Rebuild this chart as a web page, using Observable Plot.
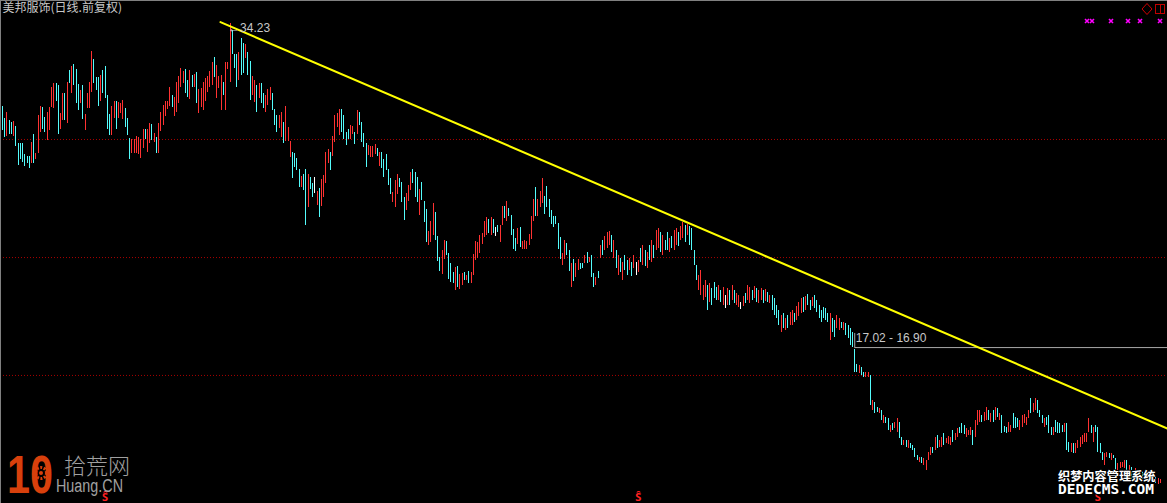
<!DOCTYPE html>
<html><head><meta charset="utf-8">
<script src="https://cdn.jsdelivr.net/npm/d3@7"></script>
<script src="https://cdn.jsdelivr.net/npm/@observablehq/plot@0.6"></script>
<style>html,body{margin:0;padding:0;background:#000;} #chart{width:1167px;height:503px;overflow:hidden;position:relative;}</style>
</head><body><div id="chart"></div><script>
// ---- data: daily bars (high / low / direction r=up c=down w=flat) ----
const highs = [
// A
29.82,29.19,29.50,29.08,28.97,29.03,28.76,27.86,27.86,27.86,27.28,27.17,27.17,27.91,28.34,27.33,29.34,29.82,29.77,29.24,29.50,29.77,30.83,31.04,31.04,30.94,29.45,30.51,30.51,31.09,31.73,31.94,32.05,31.78,30.99,30.67,30.94,29.40,30.51,31.09,32.75,32.32,31.36,31.36,31.47,
// B
31.73,31.94,30.41,29.40,29.82,30.09,30.09,30.04,29.98,30.14,29.72,29.18,28.12,28.07,28.07,28.23,28.18,28.07,28.60,28.60,28.60,28.92,28.87,28.39,28.18,28.92,29.50,29.88,30.09,30.09,30.83,30.41,30.30,31.09,31.41,31.84,31.68,31.78,31.20,31.73,31.47,31.52,31.63,30.73,30.78,
// C
31.09,31.31,31.41,31.68,32.16,32.42,32.00,31.41,31.47,31.09,32.16,32.16,34.23,33.86,32.58,32.58,32.69,33.43,33.17,33.11,32.69,32.21,31.41,31.20,30.94,31.04,31.04,30.51,30.41,30.73,30.83,30.51,29.66,29.34,29.34,29.50,28.97,29.82,28.71,27.97,27.38,27.33,27.07,26.47,
// D
26.10,26.21,26.47,26.21,26.05,25.73,26.05,25.31,25.47,25.94,26.16,27.38,27.54,27.38,28.23,29.34,29.45,29.66,29.66,29.34,28.44,28.60,28.81,28.76,28.44,29.61,29.50,28.97,28.39,27.86,27.75,27.70,27.70,27.81,27.60,27.38,27.38,27.01,27.28,26.47,26.00,25.25,25.89,26.21,
// E
26.00,25.79,24.99,25.20,25.63,26.32,26.47,26.32,26.05,25.41,25.79,24.78,24.35,23.18,23.72,24.67,24.19,22.92,21.80,22.18,
22.71,22.65,22.02,21.48,21.01,21.27,21.32,20.90,20.96,21.01,20.85,21.06,21.01,21.96,22.65,22.60,22.97,23.08,23.72,23.93,
23.82,23.93,23.82,23.40,23.50,23.50,24.51,24.51,24.78,24.40,24.03,23.29,22.81,23.34,23.40,22.65,22.71,22.65,23.03,23.98,
24.88,25.52,24.88,25.31,26.00,25.04,25.57,24.88,24.30,23.98,23.98,23.61,22.87,22.02,22.71,22.55,22.18,21.48,21.70,21.48,
21.70,21.48,21.48,21.91,22.07,21.80,21.91,20.96,20.74,21.06,
// F
22.44,22.71,22.92,23.13,23.18,22.97,22.71,22.18,21.91,21.75,21.54,21.91,21.64,21.75,21.54,21.91,21.54,21.64,22.28,22.44,
22.18,22.07,22.44,22.71,22.44,23.24,23.34,23.13,22.97,22.71,23.13,22.81,22.92,23.24,23.34,23.13,23.45,23.66,23.50,23.56,
23.45,23.34,22.18,21.38,20.85,21.11,20.31,20.58,20.31,20.42,20.15,20.47,20.21,20.31,20.05,20.21,19.78,20.15,20.05,20.31,
20.05,19.89,19.78,19.41,19.73,19.89,20.31,20.21,20.05,20.26,20.15,20.05,20.15,20.05,20.10,19.94,19.78,19.78,19.63,19.25,
18.99,18.73,18.84,18.56,18.73,18.89,18.99,18.84,19.20,19.41,19.63,19.68,19.73,19.84,19.52,19.68,19.78,19.52,19.25,18.99,
// G
19.15,19.09,18.84,18.84,18.56,18.46,18.73,18.56,18.36,18.36,18.30,18.20,18.04,17.82,
16.90,16.12,16.07,15.96,15.69,15.69,15.69,15.54,14.21,14.10,13.84,13.79,13.68,13.41,13.31,13.25,12.88,12.99,13.04,13.25,
13.04,12.25,12.09,12.09,12.09,11.93,11.82,11.66,11.29,11.18,11.18,11.13,11.02,11.45,11.72,11.72,12.25,12.35,12.09,12.25,
12.46,12.19,12.30,12.25,12.62,12.46,12.72,12.78,12.99,12.88,12.72,12.62,12.78,12.62,13.15,13.68,13.68,13.41,13.57,
13.84,13.68,13.52,13.68,13.84,13.79,13.52,13.41,12.83,12.78,13.04,12.88,13.52,13.31,13.25,13.15,13.41,13.47,
13.31,13.68,14.31,14.05,14.31,14.21,13.68,13.41,13.25,13.31,13.41,12.78,12.78,13.15,13.04,12.99,
12.88,12.99,12.99,11.98,11.93,11.93,11.93,12.09,12.25,12.35,
12.46,12.46,13.25,12.88,12.78,12.88,12.78,11.93,11.45,11.40,11.45,11.40,11.40,11.29,11.13,10.86,
10.92,10.92,11.02,11.02,10.76,10.65,10.49,10.60,10.38,10.49,10.44,10.33,10.38,10.28,10.33,10.25,10.17,10.07,10.01
];
const lows = [
// A
28.55,28.18,28.23,28.34,28.34,28.23,27.70,26.68,27.01,26.84,26.63,26.79,26.53,26.79,26.79,27.01,27.33,28.44,28.60,28.44,28.02,28.55,29.77,29.72,30.09,28.34,28.60,29.08,29.08,28.92,31.04,30.51,30.94,29.98,29.61,29.98,29.13,28.55,29.72,29.72,30.57,31.04,30.67,29.82,30.09,
// B
30.51,30.25,28.60,28.28,28.28,29.18,28.60,29.18,29.45,29.13,28.71,28.28,27.01,27.33,27.33,27.33,27.28,27.07,27.60,28.07,27.38,27.86,28.02,27.91,27.33,27.33,28.50,28.81,29.29,29.66,29.82,29.77,29.29,29.50,29.98,30.83,31.04,30.51,30.30,30.20,30.83,30.83,29.98,29.45,29.77,
// C
29.61,30.09,30.57,30.83,30.94,31.36,30.25,30.78,29.61,30.41,29.61,31.78,31.09,32.58,31.84,30.83,31.20,31.47,31.57,32.37,31.47,30.14,30.41,30.04,29.50,30.25,29.98,29.72,29.50,29.88,30.14,29.61,28.81,28.44,28.65,28.18,27.86,27.97,27.97,27.12,25.99,26.58,26.42,25.52,
// D
25.52,25.36,23.50,24.46,25.41,24.99,25.20,24.56,23.93,24.51,24.99,25.73,26.79,26.42,27.17,27.91,28.71,28.28,28.44,28.07,27.75,28.07,28.07,28.34,27.81,28.34,28.81,27.91,27.65,26.58,27.22,27.12,27.12,27.28,27.17,26.63,26.53,26.05,26.42,25.63,25.15,24.72,24.46,25.15,
// E
25.52,24.72,23.77,24.30,24.78,25.36,25.73,24.99,24.72,24.03,24.83,23.66,22.60,22.44,22.60,22.97,22.71,21.59,21.06,20.90,
21.70,21.91,20.63,20.47,20.42,20.05,20.21,20.10,20.31,20.58,20.58,20.42,20.42,20.85,21.64,21.75,22.02,22.49,22.87,22.97,
23.08,22.97,23.08,22.92,23.13,22.60,23.50,23.88,23.72,23.98,22.97,22.23,22.12,22.49,22.33,22.23,22.23,22.23,22.44,22.76,
23.72,23.98,23.98,24.46,24.67,24.09,24.46,23.93,23.56,23.40,23.56,22.23,21.70,21.38,21.70,21.91,21.06,20.21,20.53,20.74,
21.11,21.17,21.22,21.48,21.48,21.54,20.74,20.21,20.31,20.69,
// F
21.75,21.91,22.18,22.28,22.44,22.07,21.75,21.22,20.85,21.01,20.58,21.11,20.85,21.11,20.79,21.22,20.85,21.01,21.54,21.38,
21.32,21.22,21.64,21.54,21.75,22.18,22.28,22.07,21.91,22.18,22.18,22.07,22.28,22.18,22.44,22.39,22.71,22.81,22.60,22.97,
22.44,22.18,21.38,20.58,20.05,19.78,19.52,19.68,18.99,19.41,19.25,19.63,19.52,19.52,19.41,19.25,19.09,19.25,19.25,19.52,
19.36,19.25,19.15,19.04,19.20,19.36,19.52,19.36,19.52,19.63,19.41,19.36,19.52,19.36,19.47,19.41,19.36,18.99,18.73,18.56,
18.20,17.82,18.04,17.93,18.04,18.20,18.20,18.36,18.46,18.67,18.84,18.89,18.99,19.25,18.99,19.20,19.09,18.89,18.56,18.36,
// G
18.56,18.46,18.36,17.40,17.82,17.56,18.04,17.93,18.04,17.93,17.66,17.50,17.13,17.02,
15.69,15.69,15.64,15.54,15.43,15.43,15.43,13.95,13.68,13.52,13.57,13.52,13.15,12.99,12.99,12.62,12.51,12.62,12.72,12.51,
12.19,11.82,11.82,11.72,11.66,11.66,11.56,11.18,11.02,10.92,10.86,10.76,10.49,11.02,11.29,11.40,11.56,11.66,11.72,11.72,
11.82,11.93,11.88,11.82,11.98,12.09,12.25,12.46,12.46,12.40,12.25,12.35,12.35,11.82,12.25,12.88,13.04,13.04,13.10,
13.15,13.15,13.04,13.04,13.15,13.31,13.15,12.46,12.51,12.46,12.51,12.51,12.72,12.72,12.78,12.62,12.78,12.99,
12.88,13.25,13.52,13.57,13.68,13.52,13.31,12.99,12.78,12.88,12.46,12.35,12.35,12.51,12.46,12.46,
12.51,12.51,11.56,11.45,11.45,11.40,11.40,11.66,11.72,11.88,
11.98,11.98,12.51,12.46,11.98,12.51,11.45,11.40,11.02,10.76,11.18,11.13,11.02,11.13,10.49,10.38,
10.60,10.65,10.60,10.49,10.38,9.96,10.07,10.17,9.96,10.07,10.01,9.91,10.01,9.86,9.96,9.88,9.80,9.75,9.80
];
const dirs = (
  "ccrccrcccccccrcrrrccrrrrccrrcrcrcccrcrrrrcccr" +
  "ccccrrcrrrcccrrrrrrcrrcrcrrrrrrcrrrrrccrcrcrr" +
  "rrrrrcrrrcrrrcccrccrccrrcrccrrrcccrrcrrrcccc" +
  "rccrccwrcrrrrcrrrrccccrrcrccccrrrrcrcccccrrr" +
  "cccrrrcccr" + "cccrrrcccr" + "rccccrcrrc" + "rcrrrrrrrr" + "crcwcrrcrc" + "cccrcrrrrr" + "rcrrrccccc" + "cccrrccrcr" + "rccrcrccrc" +
  "rcrrrcrcrc" + "rccrcrwrcr" + "crcrcrrcrc" + "crcrrcrrcr" + "ccccrrrrcr" + "cccrcrwrcr" + "crrwrcrrcr" + "crrcrcrccc" + "crcrcrrcrr" + "rcrccrcccc" +
  "cccrccrrcrcccc" +
  "cc" + "rccrrcrccr" + "crccrcrrcc" + "rcrccccrcr" + "rrrcrcrrcr" +
  "r" + "rcrrcc" + "c" + "rrrcrrrc" + "r" + "rcrcrcrc" + "c" + "crrcccrr" + "r" +
  "rrcrrcccrc" + "ccrcc" + "c" + "crccr" + "crrr" + "r" +
  "rrrcrc" + "cccrrcrccr" + "rrrcrccrcr" + "c" + "crcr" + "r" + "crr"
).split("");

// annotations
const gridPrices = [28.07, 21.80, 15.54];
const trendIdx = [97.7, 522.2];
const trendPrice = [34.30, 12.72];
const peakIdx = 102, peakPrice = 34.23;
const gapIdx = 382, gapHigh = 17.02, gapLow = 16.90;
const signalIdx = [46, 285, 491];
const title = "美邦服饰(日线.前复权)";

const bars = highs.map((h, i) => ({i, high: h, low: lows[i], dir: dirs[i]}));
const trend = trendIdx.map((x, k) => ({i: x, p: trendPrice[k]}));
const X1 = 522.2;

const chart = Plot.plot({
  width: 1167, height: 503, margin: 0,
  style: {background: "#000", overflow: "visible"},
  x: {domain: [-0.9, X1], axis: null},
  y: {domain: [8.74, 35.45], axis: null},
  color: {domain: ["r", "c", "w"], range: ["#ff3232", "#54fcfc", "#ffffff"]},
  marks: [
    Plot.ruleY(gridPrices, {stroke: "#a80000", strokeDasharray: "1,2"}),
    Plot.ruleX(bars, {x: "i", y1: "low", y2: "high", stroke: "dir", strokeWidth: 1, shapeRendering: "crispEdges"}),
    Plot.ruleY([{i: gapIdx, p: gapHigh}], {y: "p", x1: "i", x2: () => X1, stroke: "#a8a8a8"}),
    Plot.ruleX([{i: gapIdx, p: gapHigh}], {x: "i", y1: "p", y2: d => d.p + 0.75, stroke: "#a8a8a8"}),
    Plot.text([{i: gapIdx, p: gapHigh}], {x: "i", y: "p", text: () => gapHigh.toFixed(2) + " - " + gapLow.toFixed(2), textAnchor: "start", dx: 1, dy: -9, fill: "#c8c8c8", fontSize: 12, fontFamily: "Liberation Sans, Arial, sans-serif"}),
    Plot.line(trend, {x: "i", y: "p", stroke: "#ffff00", strokeWidth: 2}),
    Plot.text([{i: peakIdx, p: peakPrice}], {x: "i", y: "p", text: d => "←" + d.p.toFixed(2), textAnchor: "start", dx: -2, dy: 5, fill: "#c8c8c8", fontSize: 12, fontFamily: "Liberation Sans, Arial, sans-serif"}),
    Plot.text(signalIdx, {x: d => d, frameAnchor: "bottom", text: () => "Ŝ", fill: "#ff2020", fontSize: 11, fontWeight: "bold", lineAnchor: "bottom", dy: -3}),
    Plot.text([title], {frameAnchor: "top-left", text: d => d, dx: 2, dy: 3, lineAnchor: "top", fill: "#c8c8c8", fontSize: 12, fontFamily: "Noto Sans CJK SC, sans-serif"})
  ]
});
document.getElementById("chart").appendChild(chart);

// frame & decorations
const svg = d3.select(chart);
svg.append("line").attr("x1", 0).attr("x2", 1167).attr("y1", 0.5).attr("y2", 0.5).attr("stroke", "#808080");
svg.append("line").attr("x1", 0.5).attr("x2", 0.5).attr("y1", 0).attr("y2", 503).attr("stroke", "#808080");
const icons = svg.append("g");
[1087, 1092, 1111, 1128, 1140, 1160].forEach(x => {
  icons.append("path").attr("d", `M${x-2},${19} L${x+2},${23} M${x+2},${19} L${x-2},${23}`).attr("stroke", "#ff00ff").attr("stroke-width", 1.6);
});
icons.append("path").attr("d", "M1147,3.5 L1152,9 L1147,14.5 L1142,9 Z").attr("fill", "none").attr("stroke", "#d00000").attr("stroke-width", 1);
icons.append("rect").attr("x", 1155.5).attr("y", 4.5).attr("width", 9).attr("height", 9).attr("fill", "none").attr("stroke", "#c00000");
icons.append("line").attr("x1", 1160.5).attr("x2", 1160.5).attr("y1", 4.5).attr("y2", 13.5).attr("stroke", "#c00000");

// watermarks
const wm = svg.append("g").attr("text-anchor", "start");
wm.append("text").attr("x", 7).attr("y", 493).text("10").attr("text-anchor", "start")
  .attr("textLength", 46).attr("lengthAdjust", "spacingAndGlyphs")
  .attr("fill", "#d8400c").attr("font-family", "Liberation Sans, sans-serif").attr("font-weight", "bold").attr("font-size", 54);
wm.append("circle").attr("cx", 41).attr("cy", 473).attr("r", 5.5).attr("fill", "none").attr("stroke", "#d8400c").attr("stroke-width", 3).attr("stroke-dasharray", "2,1.5");
wm.append("circle").attr("cx", 41).attr("cy", 473).attr("r", 2).attr("fill", "#d8400c");
wm.append("text").attr("x", 64).attr("y", 474).text("拾荒网").attr("text-anchor", "start")
  .attr("fill", "#a0a0a0").attr("font-family", "Noto Sans CJK SC, sans-serif").attr("font-weight", 300).attr("font-size", 22);
wm.append("text").attr("x", 56).attr("y", 492).text("Huang.CN").attr("text-anchor", "start")
  .attr("textLength", 67).attr("lengthAdjust", "spacingAndGlyphs")
  .attr("fill", "#a0a0a0").attr("font-family", "Liberation Sans, sans-serif").attr("font-size", 18);
wm.append("text").attr("x", 1058).attr("y", 481).text("织梦内容管理系统").attr("text-anchor", "start")
  .attr("fill", "#ffffff").attr("stroke", "#000").attr("stroke-width", 2).attr("paint-order", "stroke")
  .attr("font-family", "Noto Sans CJK SC, sans-serif").attr("font-weight", "bold").attr("font-size", 12.2);
wm.append("text").attr("x", 1058).attr("y", 494).text("DEDECMS.COM").attr("text-anchor", "start")
  .attr("fill", "#ffffff").attr("stroke", "#000").attr("stroke-width", 2).attr("paint-order", "stroke")
  .attr("font-family", "DejaVu Sans Mono, monospace").attr("font-weight", "bold").attr("font-size", 14.5);
</script></body></html>
